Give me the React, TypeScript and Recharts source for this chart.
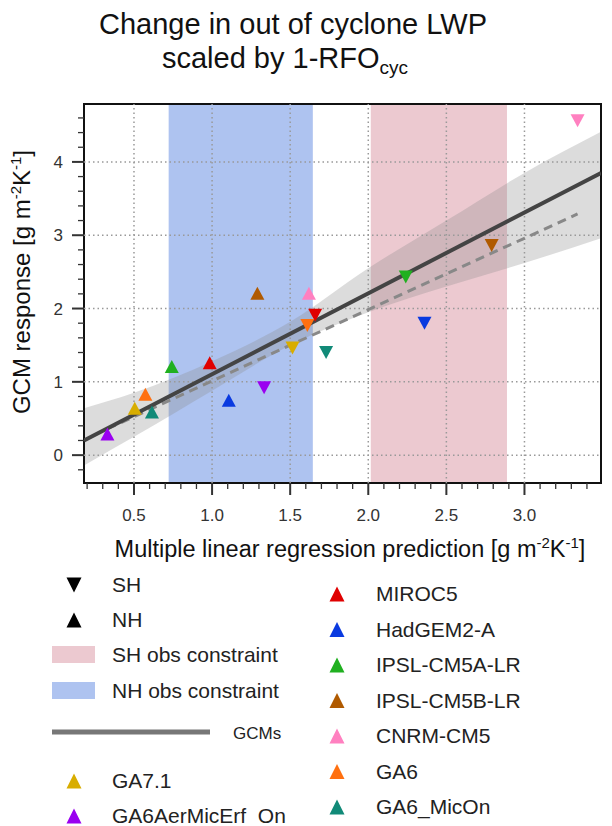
import React from 'react';
import {
  Area,
  ComposedChart,
  Line,
  ReferenceArea,
  ReferenceLine,
  Scatter,
  XAxis,
  YAxis,
} from 'recharts';

// models, colours and the NH (up) / SH (down) points
const MODELS = [
  'MIROC5',
  'HadGEM2-A',
  'IPSL-CM5A-LR',
  'IPSL-CM5B-LR',
  'CNRM-CM5',
  'GA6',
  'GA6_MicOn',
  'GA7.1',
  'GA6AerMicErf_On',
];
const COLORS = [
  '#e00000',
  '#0a3ae0',
  '#20b020',
  '#b05a00',
  '#ff80c0',
  '#ff7010',
  '#118a78',
  '#d8ad00',
  '#9a00f0',
];
const NH_X = [0.985, 1.107, 0.742, 1.29, 1.62, 0.573, 0.615, 0.505, 0.33];
const NH_Y = [1.26, 0.75, 1.21, 2.21, 2.21, 0.83, 0.59, 0.64, 0.29];
const SH_X = [1.66, 2.36, 2.24, 2.79, 3.34, 1.61, 1.73, 1.515, 1.333];
const SH_Y = [1.91, 1.8, 2.43, 2.86, 4.56, 1.77, 1.4, 1.46, 0.92];

// regression lines and the grey confidence band
const FIT_X = [0.18, 3.49];
const FIT_Y = [0.2, 3.85];
const DASH_X = [0.33, 3.34];
const DASH_Y = [0.36, 3.29];
const BAND_X = [0.18, 0.5, 1.0, 1.5, 2.0, 2.5, 3.0, 3.49];
const BAND_LO = [-0.14, 0.25, 0.88, 1.5, 1.95, 2.3, 2.62, 2.96];
const BAND_HI = [0.64, 0.85, 1.28, 1.82, 2.55, 3.2, 3.85, 4.41];

// observational constraints
const NH_OBS = [0.722, 1.645];
const SH_OBS = [2.016, 2.888];

const X_DOMAIN = [0.18, 3.49];
const Y_DOMAIN = [-0.38, 4.79];
const X_TICKS = [
  0.2, 0.3, 0.4, 0.5, 0.6, 0.7, 0.8, 0.9, 1.0, 1.1, 1.2, 1.3, 1.4, 1.5, 1.6, 1.7,
  1.8, 1.9, 2.0, 2.1, 2.2, 2.3, 2.4, 2.5, 2.6, 2.7, 2.8, 2.9, 3.0, 3.1, 3.2, 3.3,
  3.4,
];
const X_MAJOR = [0.5, 1.0, 1.5, 2.0, 2.5, 3.0];
const Y_TICKS = [
  -0.2, 0, 0.2, 0.4, 0.6, 0.8, 1.0, 1.2, 1.4, 1.6, 1.8, 2.0, 2.2, 2.4, 2.6, 2.8,
  3.0, 3.2, 3.4, 3.6, 3.8, 4.0, 4.2, 4.4, 4.6,
];
const Y_MAJOR = [0, 1, 2, 3, 4];

const FONT = '"Liberation Sans", Arial, sans-serif';

const bandData = BAND_X.map((x, i) => ({ x, band: [BAND_LO[i], BAND_HI[i]] }));
const fitData = FIT_X.map((x, i) => ({ x, y: FIT_Y[i] }));
const dashData = DASH_X.map((x, i) => ({ x, y: DASH_Y[i] }));

const isIn = (list: number[], v: number) => list.some((m) => Math.abs(m - v) < 1e-6);

const tri = (cx: number, cy: number, up: boolean, w: number, h: number) =>
  up
    ? `M${cx},${cy - h / 2} L${cx + w / 2},${cy + h / 2} L${cx - w / 2},${cy + h / 2} Z`
    : `M${cx},${cy + h / 2} L${cx + w / 2},${cy - h / 2} L${cx - w / 2},${cy - h / 2} Z`;

const XTick = (props: any) => {
  const { x, y, payload } = props;
  const major = isIn(X_MAJOR, payload.value);
  return (
    <g>
      <line x1={x} x2={x} y1={y} y2={y + (major ? 12 : 6)} stroke="#333" strokeWidth={major ? 2 : 1.3} />
      {major && (
        <text x={x} y={y + 38} textAnchor="middle" fontSize={17} fill="#333" fontFamily={FONT}>
          {payload.value.toFixed(1)}
        </text>
      )}
    </g>
  );
};

const YTick = (props: any) => {
  const { x, y, payload } = props;
  const major = isIn(Y_MAJOR, payload.value);
  return (
    <g>
      <line x1={x} x2={x - (major ? 12 : 6)} y1={y} y2={y} stroke="#333" strokeWidth={major ? 2 : 1.3} />
      {major && (
        <text x={x - 21} y={y + 6} textAnchor="end" fontSize={17} fill="#333" fontFamily={FONT}>
          {Math.round(payload.value)}
        </text>
      )}
    </g>
  );
};

const Legend = () => {
  const rightRows = MODELS.slice(0, 7);
  const leftRows = MODELS.slice(7);
  const t = { fontSize: 21, fill: '#222', fontFamily: FONT } as const;
  return (
    <g>
      <path d={tri(74, 585, false, 15, 15)} fill="#000" />
      <text x={112} y={592} {...t}>SH</text>
      <path d={tri(74, 620, true, 15, 15)} fill="#000" />
      <text x={112} y={627} {...t}>NH</text>
      <rect x={52} y={646} width={43} height={17} fill="#ecc9d0" />
      <text x={112} y={662} {...t}>SH obs constraint</text>
      <rect x={52} y={682} width={43} height={17} fill="#aec3f0" />
      <text x={112} y={698} {...t}>NH obs constraint</text>
      <line x1={52} x2={210} y1={732} y2={732} stroke="#777" strokeWidth={5} />
      <text x={233} y={739} fontSize={17} fill="#222" fontFamily={FONT}>GCMs</text>
      {leftRows.map((m, i) => (
        <g key={m}>
          <path d={tri(74, 781 + i * 35, true, 15, 15)} fill={COLORS[7 + i]} />
          <text x={112} y={788 + i * 35} {...t}>{m}</text>
        </g>
      ))}
      {rightRows.map((m, i) => (
        <g key={m}>
          <path d={tri(337, 594 + i * 35.5, true, 15, 15)} fill={COLORS[i]} />
          <text x={376} y={601 + i * 35.5} {...t}>{m}</text>
        </g>
      ))}
    </g>
  );
};

export default function App() {
  return (
    <div style={{ position: 'absolute', left: 0, top: 0, width: 612, height: 826, background: '#fff' }}>
      <ComposedChart
        width={612}
        height={826}
        data={bandData}
        margin={{ top: 104, right: 11, bottom: 303, left: 24 }}
      >
        <XAxis
          dataKey="x"
          type="number"
          domain={X_DOMAIN}
          ticks={X_TICKS}
          interval={0}
          allowDataOverflow
          axisLine={false}
          tickLine={false}
          tickSize={0}
          tickMargin={0}
          height={40}
          tick={<XTick />}
        />
        <YAxis
          type="number"
          domain={Y_DOMAIN}
          ticks={Y_TICKS}
          interval={0}
          allowDataOverflow
          axisLine={false}
          tickLine={false}
          tickSize={0}
          tickMargin={0}
          width={60}
          tick={<YTick />}
        />
        <ReferenceArea x1={NH_OBS[0]} x2={NH_OBS[1]} fill="#aec3f0" fillOpacity={1} stroke="none" />
        <ReferenceArea x1={SH_OBS[0]} x2={SH_OBS[1]} fill="#ecc9d0" fillOpacity={1} stroke="none" />
        {X_MAJOR.map((v) => (
          <ReferenceLine key={'gx' + v} x={v} stroke="#999" strokeWidth={1.5} strokeDasharray="1.5 3" />
        ))}
        {Y_MAJOR.map((v) => (
          <ReferenceLine key={'gy' + v} y={v} stroke="#999" strokeWidth={1.5} strokeDasharray="1.5 3" />
        ))}
        <Area
          dataKey="band"
          type="monotone"
          fill="#8c8c8c"
          fillOpacity={0.3}
          stroke="none"
          isAnimationActive={false}
          activeDot={false}
        />
        <Line
          data={dashData}
          dataKey="y"
          type="linear"
          stroke="#888"
          strokeWidth={3}
          strokeDasharray="9 6"
          dot={false}
          activeDot={false}
          isAnimationActive={false}
        />
        <Line
          data={fitData}
          dataKey="y"
          type="linear"
          stroke="#444"
          strokeWidth={4}
          dot={false}
          activeDot={false}
          isAnimationActive={false}
        />
        {MODELS.map((m, i) => (
          <Scatter
            key={'nh' + m}
            data={[{ x: NH_X[i], y: NH_Y[i] }]}
            dataKey="y"
            fill={COLORS[i]}
            isAnimationActive={false}
            shape={(p: any) => <path d={tri(p.cx, p.cy, true, 14, 13)} fill={COLORS[i]} />}
          />
        ))}
        {MODELS.map((m, i) => (
          <Scatter
            key={'sh' + m}
            data={[{ x: SH_X[i], y: SH_Y[i] }]}
            dataKey="y"
            fill={COLORS[i]}
            isAnimationActive={false}
            shape={(p: any) => <path d={tri(p.cx, p.cy, false, 14, 13)} fill={COLORS[i]} />}
          />
        ))}
        <ReferenceArea
          x1={X_DOMAIN[0]}
          x2={X_DOMAIN[1]}
          y1={Y_DOMAIN[0]}
          y2={Y_DOMAIN[1]}
          fill="none"
          stroke="#111"
          strokeWidth={2}
          ifOverflow="visible"
        />
      </ComposedChart>
      <svg width={612} height={826} style={{ position: 'absolute', left: 0, top: 0, pointerEvents: 'none' }}>
        <text x={293} y={34} textAnchor="middle" fontSize={29} fill="#111" fontFamily={FONT}>
          Change in out of cyclone LWP
        </text>
        <text x={285} y={68} textAnchor="middle" fontSize={29} fill="#111" fontFamily={FONT}>
          scaled by 1-RFO
          <tspan fontSize={19} dy={6}>cyc</tspan>
        </text>
        <text
          transform="translate(30,282) rotate(-90)"
          textAnchor="middle"
          fontSize={24}
          fill="#111"
          fontFamily={FONT}
        >
          GCM response [g m<tspan fontSize={15} dy={-9}>-2</tspan>
          <tspan dy={9}>K</tspan>
          <tspan fontSize={15} dy={-9}>-1</tspan>
          <tspan dy={9}>]</tspan>
        </text>
        <text x={350} y={557} textAnchor="middle" fontSize={23.5} fill="#111" fontFamily={FONT}>
          Multiple linear regression prediction [g m<tspan fontSize={15} dy={-9}>-2</tspan>
          <tspan dy={9}>K</tspan>
          <tspan fontSize={15} dy={-9}>-1</tspan>
          <tspan dy={9}>]</tspan>
        </text>
        <Legend />
      </svg>
    </div>
  );
}
